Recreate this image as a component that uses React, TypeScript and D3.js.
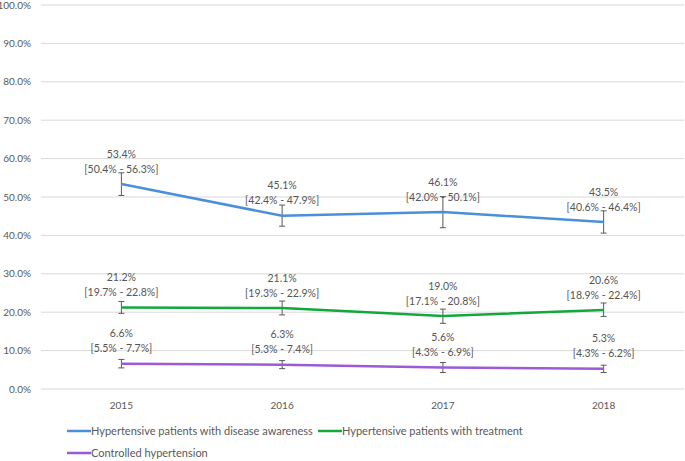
import { useEffect, useRef } from 'react';
import * as d3 from 'd3';

const years = ['2015', '2016', '2017', '2018'];

const awareness = [53.4, 45.1, 46.1, 43.5];
const awarenessLow = [50.4, 42.4, 42.0, 40.6];
const awarenessHigh = [56.3, 47.9, 50.1, 46.4];

const treatment = [21.2, 21.1, 19.0, 20.6];
const treatmentLow = [19.7, 19.3, 17.1, 18.9];
const treatmentHigh = [22.8, 22.9, 20.8, 22.4];

const controlled = [6.6, 6.3, 5.6, 5.3];
const controlledLow = [5.5, 5.3, 4.3, 4.3];
const controlledHigh = [7.7, 7.4, 6.9, 6.2];

const yTicks = [0, 10, 20, 30, 40, 50, 60, 70, 80, 90, 100];

const seriesNames = [
    'Hypertensive patients with disease awareness',
    'Hypertensive patients with treatment',
    'Controlled hypertension',
];
const seriesColors = ['#4a8fdc', '#12a83c', '#9b5bd6'];

const W = 685;
const H = 461;
const FONT = 'Lato, "Open Sans", sans-serif';

function App() {
    const svgRef = useRef<SVGSVGElement>(null);

    useEffect(() => {
        if (!svgRef.current) return;
        const svg = d3.select(svgRef.current);
        svg.selectAll('*').remove();

        const margin = { top: 5, right: 1, bottom: 72, left: 41 };
        const innerW = W - margin.left - margin.right;
        const innerH = H - margin.top - margin.bottom;

        const x = d3.scaleBand<string>().domain(years).range([0, innerW]);
        const y = d3.scaleLinear().domain([0, 100]).range([innerH, 0]);
        const cx = (d: string) => (x(d) ?? 0) + x.bandwidth() / 2;

        const g = svg.append('g').attr('transform', `translate(${margin.left},${margin.top})`);

        // grid
        g.selectAll('line.grid')
            .data(yTicks)
            .join('line')
            .attr('class', 'grid')
            .attr('x1', 0)
            .attr('x2', innerW)
            .attr('y1', d => y(d))
            .attr('y2', d => y(d))
            .attr('stroke', '#d9d9d9')
            .attr('stroke-width', 1);

        g.selectAll('text.ytick')
            .data(yTicks)
            .join('text')
            .attr('class', 'ytick')
            .attr('x', -10)
            .attr('y', d => y(d))
            .attr('dy', '0.35em')
            .attr('text-anchor', 'end')
            .attr('font-size', 10)
            .attr('font-family', FONT)
            .attr('fill', '#595959')
            .text(d => d.toFixed(1) + '%');

        g.selectAll('text.xtick')
            .data(years)
            .join('text')
            .attr('class', 'xtick')
            .attr('x', d => cx(d))
            .attr('y', innerH + 16)
            .attr('dy', '0.35em')
            .attr('text-anchor', 'middle')
            .attr('font-size', 10)
            .attr('font-family', FONT)
            .attr('fill', '#595959')
            .text(d => d);

        const series = [
            { vals: awareness, lo: awarenessLow, hi: awarenessHigh },
            { vals: treatment, lo: treatmentLow, hi: treatmentHigh },
            { vals: controlled, lo: controlledLow, hi: controlledHigh },
        ];

        const line = d3.line<number>()
            .x((_, i) => cx(years[i]))
            .y(d => y(d));

        series.forEach((s, si) => {
            // error bars
            years.forEach((yr, i) => {
                const px = cx(yr);
                const eg = g.append('g').attr('stroke', '#595959').attr('stroke-width', 1);
                eg.append('line').attr('x1', px).attr('x2', px).attr('y1', y(s.lo[i])).attr('y2', y(s.hi[i]));
                eg.append('line').attr('x1', px - 3).attr('x2', px + 3).attr('y1', y(s.lo[i])).attr('y2', y(s.lo[i]));
                eg.append('line').attr('x1', px - 3).attr('x2', px + 3).attr('y1', y(s.hi[i])).attr('y2', y(s.hi[i]));
            });

            g.append('path')
                .datum(s.vals)
                .attr('d', line)
                .attr('fill', 'none')
                .attr('stroke', seriesColors[si])
                .attr('stroke-width', 2.5);

            years.forEach((yr, i) => {
                const px = cx(yr);
                const py = y(s.vals[i]);
                const t = g.append('text')
                    .attr('text-anchor', 'middle')
                    .attr('font-size', 10.5)
                    .attr('font-family', FONT)
                    .attr('fill', '#555');
                t.append('tspan').attr('x', px).attr('y', py - 30).attr('dy', '0.35em')
                    .text(s.vals[i].toFixed(1) + '%');
                t.append('tspan').attr('x', px).attr('y', py - 15).attr('dy', '0.35em')
                    .text(`[${s.lo[i].toFixed(1)}% - ${s.hi[i].toFixed(1)}%]`);
            });
        });

        // legend
        const legendItems = [
            { name: seriesNames[0], color: seriesColors[0], x: 67, y: 431 },
            { name: seriesNames[1], color: seriesColors[1], x: 318, y: 431 },
            { name: seriesNames[2], color: seriesColors[2], x: 67, y: 453 },
        ];
        const lg = svg.append('g');
        legendItems.forEach(item => {
            lg.append('line')
                .attr('x1', item.x)
                .attr('x2', item.x + 24)
                .attr('y1', item.y)
                .attr('y2', item.y)
                .attr('stroke', item.color)
                .attr('stroke-width', 2.5);
            lg.append('text')
                .attr('x', item.x + 24)
                .attr('y', item.y)
                .attr('dy', '0.35em')
                .attr('font-size', 11)
                .attr('font-family', FONT)
                .attr('fill', '#595959')
                .text(item.name);
        });
    }, []);

    return (
        <div style={{ position: 'absolute', left: 0, top: 0, background: '#fff' }}>
            <svg ref={svgRef} width={W} height={H} style={{ display: 'block' }}></svg>
        </div>
    );
}

export default App;
